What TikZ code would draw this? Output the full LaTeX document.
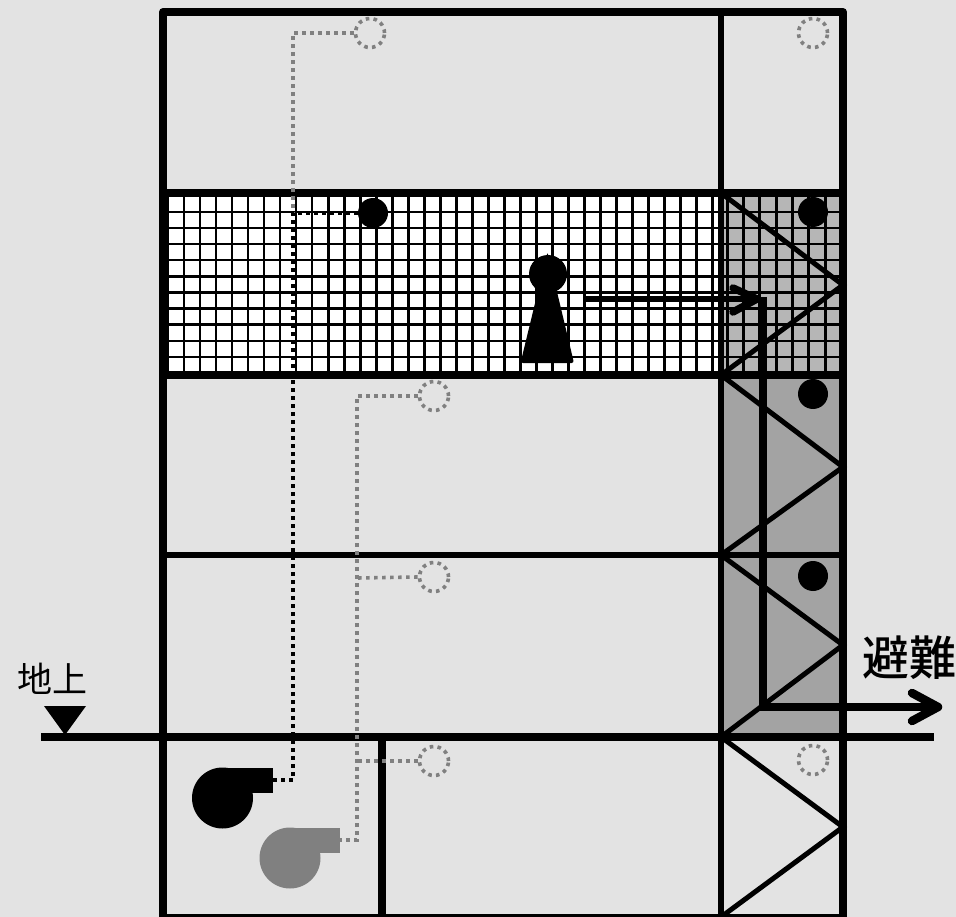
\documentclass[tikz,border=0pt]{standalone}
\usepackage{fontspec}
\newfontfamily\cjk{Noto Sans CJK JP}
\newfontfamily\cjkb{Noto Sans CJK JP Medium}
\definecolor{bgc}{HTML}{E3E3E3}
\definecolor{stairc}{HTML}{A3A3A3}
\definecolor{stairg}{HTML}{B6B6B6}
\definecolor{dotg}{HTML}{808080}
\tikzset{
  wall/.style={line width=8pt,line cap=round,line join=round},
  thinwall/.style={line width=5.5pt},
  zig/.style={line width=5pt,line join=miter},
  gridline/.style={line width=2.6pt},
  gdot/.style={draw=dotg,line width=3.6pt,dash pattern=on 3.6pt off 4.4pt},
  bdot/.style={draw=black,line width=3.6pt,dash pattern=on 3.6pt off 4.4pt},
  sensor/.style={circle,draw=dotg,line width=3.6pt,dash pattern=on 3.6pt off 4.2pt,minimum size=29pt,inner sep=0pt},
  alarm/.style={circle,fill=black,minimum size=30pt,inner sep=0pt},
  route/.style={line width=7.8pt,line join=miter},
  chevron/.style={line width=8.5pt,line cap=round,line join=round},
  label/.style={inner sep=0pt}
}
\begin{document}
\begin{tikzpicture}[x=1pt,y=-1pt]
\useasboundingbox (0,0) rectangle (956,917);
\clip (0,0) rectangle (956,917);
\fill[bgc] (0,0) rectangle (956,917);
% floor and stair fills
\fill[white] (163,193) rectangle (721,375);
\fill[stairg] (721,193) rectangle (843,375);
\fill[stairc] (721,375) rectangle (843,737);
% grids
\foreach \k in {0,...,34} \draw[gridline] ({168+16.02*\k},193) -- ({168+16.02*\k},375);
\foreach \k in {0,...,6} \draw[gridline,line width=3pt] ({727+16.35*\k},193) -- ({727+16.35*\k},375);
\foreach \k in {0,...,9} \draw[gridline,line width=2.4pt] (163,{212+16.1*\k}) -- (843,{212+16.1*\k});
% stair zigzag
\draw[zig] (721,193) -- (843,285) -- (721,375) -- (843,467) -- (721,555) -- (843,645) -- (721,737) -- (843,827) -- (721,917);
% walls
\draw[thinwall] (721,12) -- (721,917);
\draw[line width=8pt] (382,737) -- (382,917);
\draw[wall] (163,917) -- (163,12) -- (843,12) -- (843,917);
\draw[line width=5pt] (163,916) -- (843,916);
\draw[wall,line cap=butt] (163,193) -- (843,193);
\draw[wall,line cap=butt] (163,375) -- (843,375);
\draw[line width=6.5pt] (163,555) -- (843,555);
\draw[line width=8pt] (41,737) -- (934,737);
% sensors
\node[sensor] (s1) at (370,33) {};
\node[sensor] (s2) at (813,33) {};
\node[sensor] (s3) at (434,396) {};
\node[sensor] (s4) at (434,577) {};
\node[sensor] (s5) at (434,761) {};
\node[sensor] (s6) at (813,760) {};
% alarms
\node[alarm] (a1) at (373,213) {};
\node[alarm] (a2) at (813,212) {};
\node[alarm] (a3) at (813,394) {};
\node[alarm] (a4) at (813,576) {};
% fans
\coordinate (f1) at (273,780);
\coordinate (f2) at (340,840);
\fill[black] (222.5,798) circle[radius=30.5];
\fill[black] (222.5,768) rectangle (273,793);
\fill[dotg] (290,858) circle[radius=30.5];
\fill[dotg] (290,828) rectangle (340,853);
% wiring
\coordinate (c1) at (293,33);
\coordinate (c2) at (293,213);
\coordinate (c3) at (357,396);
\coordinate (c4) at (357,578);
\coordinate (c5) at (357,761);
\draw[gdot] (s1.west) -- (c1) -- (c2);
\draw[bdot] (a1.west) -- (c2) -- (293,780) -- (f1);
\draw[gdot] (s3.west) -- (c3) |- (f2);
\draw[gdot] (s4.west) -- (c4);
\draw[gdot] (s5.west) -- (c5);
% person
\fill[black] (548,274) circle[radius=19];
\fill[black,rounded corners=2.5pt] (547.5,252) -- (574,363) -- (520.5,363) -- cycle;
% route
\coordinate (r1) at (585,299);
\coordinate (r2) at (754,299);
\coordinate (r3) at (763,297);
\coordinate (r4) at (763,707);
\coordinate (r5) at (936,707);
\draw[line width=6.5pt] (r1) -- (r2);
\draw[chevron,line width=7.5pt] (733,288) -- (757,299) -- (733,312);
\draw[route] (r3) -- (r4) -- (r5);
\draw[chevron] (912,693) -- (938,707) -- (912,721);
% ground mark
\fill[black] (44,706) -- (86,706) -- (65,735) -- cycle;
\node[label,font=\cjk\fontsize{35}{35}\selectfont] (t1) at (52,679) {地上};
\node[label,font=\cjkb\fontsize{47}{47}\selectfont] (t2) at (909,658) {避難};
\end{tikzpicture}
\end{document}
